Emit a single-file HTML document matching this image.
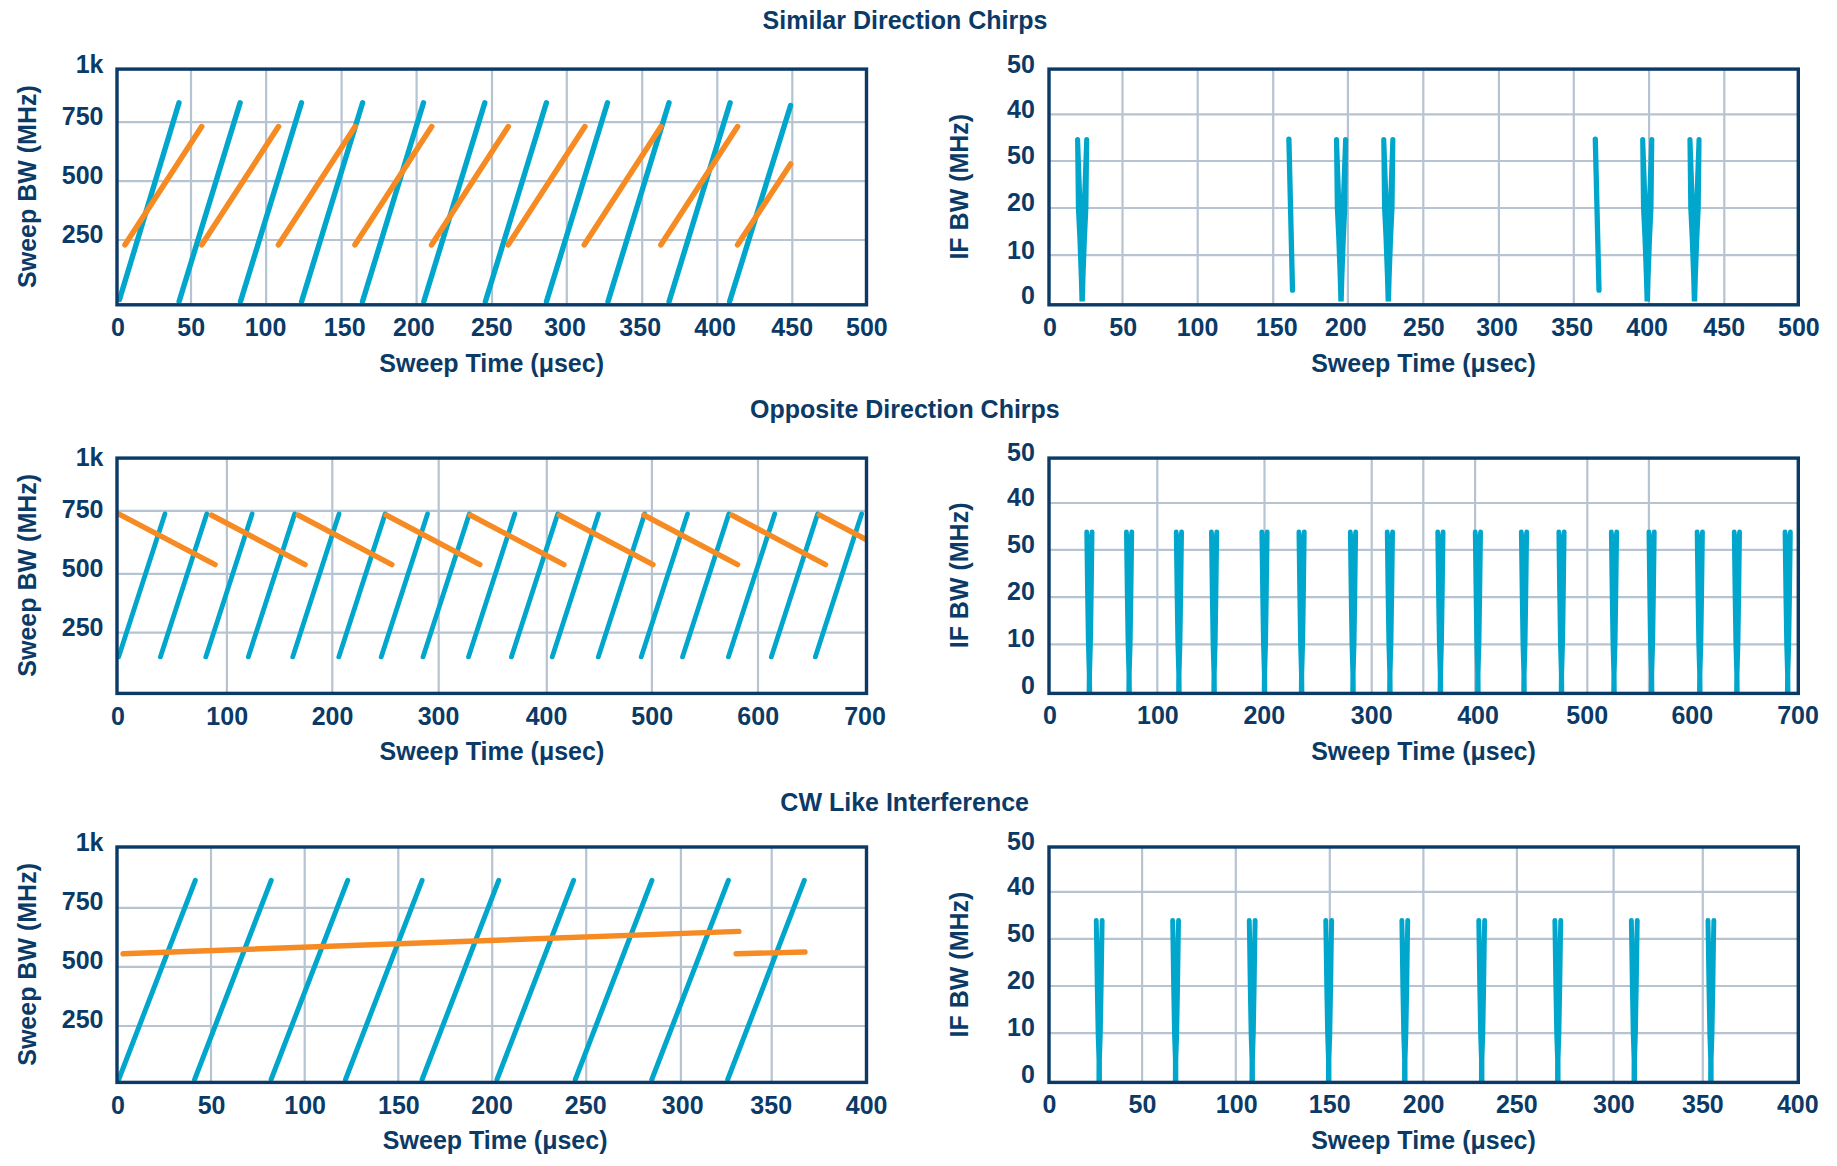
<!DOCTYPE html>
<html><head><meta charset="utf-8"><title>Chirp interference</title>
<style>html,body{margin:0;padding:0;background:#fff;}body{width:1837px;height:1166px;overflow:hidden;}svg{display:block;}</style>
</head><body>
<svg width="1837" height="1166" viewBox="0 0 1837 1166">
<rect x="0" y="0" width="1837" height="1166" fill="#fff"/>
<g>
<line x1="191.00" y1="69.10" x2="191.00" y2="304.80" stroke="#b6c3d1" stroke-width="2.2" stroke-linecap="butt"/>
<line x1="266.10" y1="69.10" x2="266.10" y2="304.80" stroke="#b6c3d1" stroke-width="2.2" stroke-linecap="butt"/>
<line x1="341.60" y1="69.10" x2="341.60" y2="304.80" stroke="#b6c3d1" stroke-width="2.2" stroke-linecap="butt"/>
<line x1="416.60" y1="69.10" x2="416.60" y2="304.80" stroke="#b6c3d1" stroke-width="2.2" stroke-linecap="butt"/>
<line x1="492.00" y1="69.10" x2="492.00" y2="304.80" stroke="#b6c3d1" stroke-width="2.2" stroke-linecap="butt"/>
<line x1="566.80" y1="69.10" x2="566.80" y2="304.80" stroke="#b6c3d1" stroke-width="2.2" stroke-linecap="butt"/>
<line x1="642.20" y1="69.10" x2="642.20" y2="304.80" stroke="#b6c3d1" stroke-width="2.2" stroke-linecap="butt"/>
<line x1="717.30" y1="69.10" x2="717.30" y2="304.80" stroke="#b6c3d1" stroke-width="2.2" stroke-linecap="butt"/>
<line x1="792.30" y1="69.10" x2="792.30" y2="304.80" stroke="#b6c3d1" stroke-width="2.2" stroke-linecap="butt"/>
<line x1="117.00" y1="122.10" x2="866.50" y2="122.10" stroke="#b6c3d1" stroke-width="2.2" stroke-linecap="butt"/>
<line x1="117.00" y1="181.10" x2="866.50" y2="181.10" stroke="#b6c3d1" stroke-width="2.2" stroke-linecap="butt"/>
<line x1="117.00" y1="240.00" x2="866.50" y2="240.00" stroke="#b6c3d1" stroke-width="2.2" stroke-linecap="butt"/>
<line x1="1122.50" y1="69.10" x2="1122.50" y2="304.80" stroke="#b6c3d1" stroke-width="2.2" stroke-linecap="butt"/>
<line x1="1197.70" y1="69.10" x2="1197.70" y2="304.80" stroke="#b6c3d1" stroke-width="2.2" stroke-linecap="butt"/>
<line x1="1273.20" y1="69.10" x2="1273.20" y2="304.80" stroke="#b6c3d1" stroke-width="2.2" stroke-linecap="butt"/>
<line x1="1347.90" y1="69.10" x2="1347.90" y2="304.80" stroke="#b6c3d1" stroke-width="2.2" stroke-linecap="butt"/>
<line x1="1423.30" y1="69.10" x2="1423.30" y2="304.80" stroke="#b6c3d1" stroke-width="2.2" stroke-linecap="butt"/>
<line x1="1498.90" y1="69.10" x2="1498.90" y2="304.80" stroke="#b6c3d1" stroke-width="2.2" stroke-linecap="butt"/>
<line x1="1573.80" y1="69.10" x2="1573.80" y2="304.80" stroke="#b6c3d1" stroke-width="2.2" stroke-linecap="butt"/>
<line x1="1649.10" y1="69.10" x2="1649.10" y2="304.80" stroke="#b6c3d1" stroke-width="2.2" stroke-linecap="butt"/>
<line x1="1724.30" y1="69.10" x2="1724.30" y2="304.80" stroke="#b6c3d1" stroke-width="2.2" stroke-linecap="butt"/>
<line x1="1049.00" y1="114.40" x2="1798.30" y2="114.40" stroke="#b6c3d1" stroke-width="2.2" stroke-linecap="butt"/>
<line x1="1049.00" y1="161.00" x2="1798.30" y2="161.00" stroke="#b6c3d1" stroke-width="2.2" stroke-linecap="butt"/>
<line x1="1049.00" y1="208.00" x2="1798.30" y2="208.00" stroke="#b6c3d1" stroke-width="2.2" stroke-linecap="butt"/>
<line x1="1049.00" y1="255.10" x2="1798.30" y2="255.10" stroke="#b6c3d1" stroke-width="2.2" stroke-linecap="butt"/>
<line x1="226.90" y1="458.10" x2="226.90" y2="693.40" stroke="#b6c3d1" stroke-width="2.2" stroke-linecap="butt"/>
<line x1="332.30" y1="458.10" x2="332.30" y2="693.40" stroke="#b6c3d1" stroke-width="2.2" stroke-linecap="butt"/>
<line x1="438.70" y1="458.10" x2="438.70" y2="693.40" stroke="#b6c3d1" stroke-width="2.2" stroke-linecap="butt"/>
<line x1="546.80" y1="458.10" x2="546.80" y2="693.40" stroke="#b6c3d1" stroke-width="2.2" stroke-linecap="butt"/>
<line x1="651.90" y1="458.10" x2="651.90" y2="693.40" stroke="#b6c3d1" stroke-width="2.2" stroke-linecap="butt"/>
<line x1="758.00" y1="458.10" x2="758.00" y2="693.40" stroke="#b6c3d1" stroke-width="2.2" stroke-linecap="butt"/>
<line x1="117.00" y1="510.90" x2="866.50" y2="510.90" stroke="#b6c3d1" stroke-width="2.2" stroke-linecap="butt"/>
<line x1="117.00" y1="573.80" x2="866.50" y2="573.80" stroke="#b6c3d1" stroke-width="2.2" stroke-linecap="butt"/>
<line x1="117.00" y1="632.70" x2="866.50" y2="632.70" stroke="#b6c3d1" stroke-width="2.2" stroke-linecap="butt"/>
<line x1="1157.30" y1="458.10" x2="1157.30" y2="693.40" stroke="#b6c3d1" stroke-width="2.2" stroke-linecap="butt"/>
<line x1="1264.50" y1="458.10" x2="1264.50" y2="693.40" stroke="#b6c3d1" stroke-width="2.2" stroke-linecap="butt"/>
<line x1="1371.70" y1="458.10" x2="1371.70" y2="693.40" stroke="#b6c3d1" stroke-width="2.2" stroke-linecap="butt"/>
<line x1="1423.30" y1="458.10" x2="1423.30" y2="693.40" stroke="#b6c3d1" stroke-width="2.2" stroke-linecap="butt"/>
<line x1="1475.10" y1="458.10" x2="1475.10" y2="693.40" stroke="#b6c3d1" stroke-width="2.2" stroke-linecap="butt"/>
<line x1="1587.30" y1="458.10" x2="1587.30" y2="693.40" stroke="#b6c3d1" stroke-width="2.2" stroke-linecap="butt"/>
<line x1="1648.90" y1="458.10" x2="1648.90" y2="693.40" stroke="#b6c3d1" stroke-width="2.2" stroke-linecap="butt"/>
<line x1="1049.00" y1="503.00" x2="1798.30" y2="503.00" stroke="#b6c3d1" stroke-width="2.2" stroke-linecap="butt"/>
<line x1="1049.00" y1="549.80" x2="1798.30" y2="549.80" stroke="#b6c3d1" stroke-width="2.2" stroke-linecap="butt"/>
<line x1="1049.00" y1="597.10" x2="1798.30" y2="597.10" stroke="#b6c3d1" stroke-width="2.2" stroke-linecap="butt"/>
<line x1="1049.00" y1="644.30" x2="1798.30" y2="644.30" stroke="#b6c3d1" stroke-width="2.2" stroke-linecap="butt"/>
<line x1="211.00" y1="847.00" x2="211.00" y2="1082.40" stroke="#b6c3d1" stroke-width="2.2" stroke-linecap="butt"/>
<line x1="304.70" y1="847.00" x2="304.70" y2="1082.40" stroke="#b6c3d1" stroke-width="2.2" stroke-linecap="butt"/>
<line x1="398.30" y1="847.00" x2="398.30" y2="1082.40" stroke="#b6c3d1" stroke-width="2.2" stroke-linecap="butt"/>
<line x1="492.20" y1="847.00" x2="492.20" y2="1082.40" stroke="#b6c3d1" stroke-width="2.2" stroke-linecap="butt"/>
<line x1="586.20" y1="847.00" x2="586.20" y2="1082.40" stroke="#b6c3d1" stroke-width="2.2" stroke-linecap="butt"/>
<line x1="680.90" y1="847.00" x2="680.90" y2="1082.40" stroke="#b6c3d1" stroke-width="2.2" stroke-linecap="butt"/>
<line x1="771.70" y1="847.00" x2="771.70" y2="1082.40" stroke="#b6c3d1" stroke-width="2.2" stroke-linecap="butt"/>
<line x1="117.00" y1="907.90" x2="866.50" y2="907.90" stroke="#b6c3d1" stroke-width="2.2" stroke-linecap="butt"/>
<line x1="117.00" y1="966.80" x2="866.50" y2="966.80" stroke="#b6c3d1" stroke-width="2.2" stroke-linecap="butt"/>
<line x1="117.00" y1="1026.00" x2="866.50" y2="1026.00" stroke="#b6c3d1" stroke-width="2.2" stroke-linecap="butt"/>
<line x1="1142.10" y1="847.00" x2="1142.10" y2="1082.40" stroke="#b6c3d1" stroke-width="2.2" stroke-linecap="butt"/>
<line x1="1235.80" y1="847.00" x2="1235.80" y2="1082.40" stroke="#b6c3d1" stroke-width="2.2" stroke-linecap="butt"/>
<line x1="1329.80" y1="847.00" x2="1329.80" y2="1082.40" stroke="#b6c3d1" stroke-width="2.2" stroke-linecap="butt"/>
<line x1="1423.40" y1="847.00" x2="1423.40" y2="1082.40" stroke="#b6c3d1" stroke-width="2.2" stroke-linecap="butt"/>
<line x1="1516.90" y1="847.00" x2="1516.90" y2="1082.40" stroke="#b6c3d1" stroke-width="2.2" stroke-linecap="butt"/>
<line x1="1613.60" y1="847.00" x2="1613.60" y2="1082.40" stroke="#b6c3d1" stroke-width="2.2" stroke-linecap="butt"/>
<line x1="1702.80" y1="847.00" x2="1702.80" y2="1082.40" stroke="#b6c3d1" stroke-width="2.2" stroke-linecap="butt"/>
<line x1="1049.00" y1="891.90" x2="1798.30" y2="891.90" stroke="#b6c3d1" stroke-width="2.2" stroke-linecap="butt"/>
<line x1="1049.00" y1="938.90" x2="1798.30" y2="938.90" stroke="#b6c3d1" stroke-width="2.2" stroke-linecap="butt"/>
<line x1="1049.00" y1="986.00" x2="1798.30" y2="986.00" stroke="#b6c3d1" stroke-width="2.2" stroke-linecap="butt"/>
<line x1="1049.00" y1="1033.10" x2="1798.30" y2="1033.10" stroke="#b6c3d1" stroke-width="2.2" stroke-linecap="butt"/>
</g>
<g stroke="#00a6cb" stroke-width="5.4" stroke-linecap="round" fill="none">
<line x1="119.50" y1="299.50" x2="179.00" y2="102.80"/>
<line x1="179.10" y1="301.50" x2="240.10" y2="102.80"/>
<line x1="240.50" y1="301.50" x2="301.50" y2="102.80"/>
<line x1="301.60" y1="301.50" x2="362.60" y2="102.80"/>
<line x1="362.50" y1="301.50" x2="423.50" y2="102.80"/>
<line x1="423.80" y1="301.50" x2="484.80" y2="102.80"/>
<line x1="485.40" y1="301.50" x2="546.40" y2="102.80"/>
<line x1="546.50" y1="301.50" x2="607.50" y2="102.80"/>
<line x1="608.00" y1="301.50" x2="669.00" y2="102.80"/>
<line x1="669.10" y1="301.50" x2="730.10" y2="102.80"/>
<line x1="729.60" y1="301.50" x2="790.60" y2="105.50"/>
</g>
<g stroke="#f68b24" stroke-width="5.6" stroke-linecap="round" fill="none">
<line x1="125.00" y1="244.8" x2="201.70" y2="126.60"/>
<line x1="201.80" y1="244.8" x2="278.50" y2="126.60"/>
<line x1="278.50" y1="244.8" x2="355.20" y2="126.60"/>
<line x1="355.00" y1="244.8" x2="431.70" y2="126.60"/>
<line x1="431.60" y1="244.8" x2="508.30" y2="126.60"/>
<line x1="508.20" y1="244.8" x2="584.90" y2="126.60"/>
<line x1="584.30" y1="244.8" x2="661.00" y2="126.60"/>
<line x1="660.90" y1="244.8" x2="737.60" y2="126.60"/>
<line x1="737.60" y1="244.8" x2="790.60" y2="164.00"/>
</g>
<g stroke="#00a6cb" stroke-width="4.8" stroke-linecap="round" fill="none">
<line x1="118.60" y1="656.9" x2="164.90" y2="513.9"/>
<line x1="160.40" y1="656.9" x2="206.70" y2="513.9"/>
<line x1="205.80" y1="656.9" x2="252.10" y2="513.9"/>
<line x1="248.30" y1="656.9" x2="294.60" y2="513.9"/>
<line x1="292.70" y1="656.9" x2="339.00" y2="513.9"/>
<line x1="338.80" y1="656.9" x2="385.10" y2="513.9"/>
<line x1="381.20" y1="656.9" x2="427.50" y2="513.9"/>
<line x1="423.00" y1="656.9" x2="469.30" y2="513.9"/>
<line x1="468.50" y1="656.9" x2="514.80" y2="513.9"/>
<line x1="511.40" y1="656.9" x2="557.70" y2="513.9"/>
<line x1="552.20" y1="656.9" x2="598.50" y2="513.9"/>
<line x1="598.30" y1="656.9" x2="644.60" y2="513.9"/>
<line x1="641.20" y1="656.9" x2="687.50" y2="513.9"/>
<line x1="682.50" y1="656.9" x2="728.80" y2="513.9"/>
<line x1="728.40" y1="656.9" x2="774.70" y2="513.9"/>
<line x1="771.30" y1="656.9" x2="817.60" y2="513.9"/>
<line x1="815.30" y1="656.9" x2="861.60" y2="513.9"/>
</g>
<g stroke="#f68b24" stroke-width="5.4" stroke-linecap="round" fill="none">
<line x1="118.6" y1="513.8" x2="215.10" y2="564.6"/>
<line x1="211.30" y1="515.0" x2="305.10" y2="564.6"/>
<line x1="298.10" y1="515.0" x2="391.90" y2="564.6"/>
<line x1="386.10" y1="515.0" x2="479.90" y2="564.6"/>
<line x1="470.20" y1="515.0" x2="564.00" y2="564.6"/>
<line x1="559.20" y1="515.0" x2="653.00" y2="564.6"/>
<line x1="643.80" y1="515.0" x2="737.60" y2="564.6"/>
<line x1="731.70" y1="515.0" x2="825.50" y2="564.6"/>
<line x1="819.3" y1="514.8" x2="865.2" y2="539.0"/>
</g>
<g stroke="#00a6cb" stroke-width="5.0" stroke-linecap="round" fill="none">
<line x1="118.70" y1="1079.5" x2="195.30" y2="880.3"/>
<line x1="194.60" y1="1079.5" x2="271.20" y2="880.3"/>
<line x1="271.10" y1="1079.5" x2="347.70" y2="880.3"/>
<line x1="345.50" y1="1079.5" x2="422.10" y2="880.3"/>
<line x1="422.10" y1="1079.5" x2="498.70" y2="880.3"/>
<line x1="497.00" y1="1079.5" x2="573.60" y2="880.3"/>
<line x1="575.30" y1="1079.5" x2="651.90" y2="880.3"/>
<line x1="651.80" y1="1079.5" x2="728.40" y2="880.3"/>
<line x1="727.70" y1="1079.5" x2="804.30" y2="880.3"/>
</g>
<g stroke="#f68b24" stroke-width="5.4" stroke-linecap="round" fill="none">
<line x1="123.1" y1="953.8" x2="738.9" y2="931.4"/>
<line x1="736.1" y1="953.8" x2="805.0" y2="952.0"/>
</g>
<path d="M1075.05,139.55 A2.55,2.55 0 0 1 1080.15,139.55 L1082.15,195.00 L1084.15,139.55 A2.55,2.55 0 0 1 1089.25,139.55 L1088.45,207.74 L1086.95,238.99 L1085.50,278.47 L1084.85,301.50 L1079.45,301.50 L1078.80,278.47 L1077.35,238.99 L1075.85,207.74 Z" fill="#00a6cb"/>
<path d="M1333.95,139.55 A2.55,2.55 0 0 1 1339.05,139.55 L1341.05,195.00 L1343.05,139.55 A2.55,2.55 0 0 1 1348.15,139.55 L1347.35,207.74 L1345.85,238.99 L1344.40,278.47 L1343.75,301.50 L1338.35,301.50 L1337.70,278.47 L1336.25,238.99 L1334.75,207.74 Z" fill="#00a6cb"/>
<path d="M1381.20,139.55 A2.55,2.55 0 0 1 1386.30,139.55 L1388.30,195.00 L1390.30,139.55 A2.55,2.55 0 0 1 1395.40,139.55 L1394.60,207.74 L1393.10,238.99 L1391.65,278.47 L1391.00,301.50 L1385.60,301.50 L1384.95,278.47 L1383.50,238.99 L1382.00,207.74 Z" fill="#00a6cb"/>
<path d="M1640.15,139.55 A2.55,2.55 0 0 1 1645.25,139.55 L1647.25,195.00 L1649.25,139.55 A2.55,2.55 0 0 1 1654.35,139.55 L1653.55,207.74 L1652.05,238.99 L1650.60,278.47 L1649.95,301.50 L1644.55,301.50 L1643.90,278.47 L1642.45,238.99 L1640.95,207.74 Z" fill="#00a6cb"/>
<path d="M1687.40,139.55 A2.55,2.55 0 0 1 1692.50,139.55 L1694.50,195.00 L1696.50,139.55 A2.55,2.55 0 0 1 1701.60,139.55 L1700.80,207.74 L1699.30,238.99 L1697.85,278.47 L1697.20,301.50 L1691.80,301.50 L1691.15,278.47 L1689.70,238.99 L1688.20,207.74 Z" fill="#00a6cb"/>
<line x1="1288.9" y1="139.2" x2="1292.5" y2="290.2" stroke="#00a6cb" stroke-width="5.3" stroke-linecap="round"/>
<line x1="1595.3" y1="139.2" x2="1599.0" y2="290.2" stroke="#00a6cb" stroke-width="5.3" stroke-linecap="round"/>
<path d="M1084.30,532.00 A2.4,2.4 0 0 1 1089.10,532.00 L1089.40,535.00 L1089.70,532.00 A2.4,2.4 0 0 1 1094.50,532.00 L1093.65,596.18 L1092.90,643.28 L1092.00,674.14 L1092.15,692.00 L1086.65,692.00 L1086.80,674.14 L1085.90,643.28 L1085.15,596.18 Z" fill="#00a6cb"/>
<path d="M1124.00,532.00 A2.4,2.4 0 0 1 1128.80,532.00 L1129.10,535.00 L1129.40,532.00 A2.4,2.4 0 0 1 1134.20,532.00 L1133.35,596.18 L1132.60,643.28 L1131.70,674.14 L1131.85,692.00 L1126.35,692.00 L1126.50,674.14 L1125.60,643.28 L1124.85,596.18 Z" fill="#00a6cb"/>
<path d="M1173.80,532.00 A2.4,2.4 0 0 1 1178.60,532.00 L1178.90,535.00 L1179.20,532.00 A2.4,2.4 0 0 1 1184.00,532.00 L1183.15,596.18 L1182.40,643.28 L1181.50,674.14 L1181.65,692.00 L1176.15,692.00 L1176.30,674.14 L1175.40,643.28 L1174.65,596.18 Z" fill="#00a6cb"/>
<path d="M1209.00,532.00 A2.4,2.4 0 0 1 1213.80,532.00 L1214.10,535.00 L1214.40,532.00 A2.4,2.4 0 0 1 1219.20,532.00 L1218.35,596.18 L1217.60,643.28 L1216.70,674.14 L1216.85,692.00 L1211.35,692.00 L1211.50,674.14 L1210.60,643.28 L1209.85,596.18 Z" fill="#00a6cb"/>
<path d="M1259.40,532.00 A2.4,2.4 0 0 1 1264.20,532.00 L1264.50,535.00 L1264.80,532.00 A2.4,2.4 0 0 1 1269.60,532.00 L1268.75,596.18 L1268.00,643.28 L1267.10,674.14 L1267.25,692.00 L1261.75,692.00 L1261.90,674.14 L1261.00,643.28 L1260.25,596.18 Z" fill="#00a6cb"/>
<path d="M1296.50,532.00 A2.4,2.4 0 0 1 1301.30,532.00 L1301.60,535.00 L1301.90,532.00 A2.4,2.4 0 0 1 1306.70,532.00 L1305.85,596.18 L1305.10,643.28 L1304.20,674.14 L1304.35,692.00 L1298.85,692.00 L1299.00,674.14 L1298.10,643.28 L1297.35,596.18 Z" fill="#00a6cb"/>
<path d="M1347.90,532.00 A2.4,2.4 0 0 1 1352.70,532.00 L1353.00,535.00 L1353.30,532.00 A2.4,2.4 0 0 1 1358.10,532.00 L1357.25,596.18 L1356.50,643.28 L1355.60,674.14 L1355.75,692.00 L1350.25,692.00 L1350.40,674.14 L1349.50,643.28 L1348.75,596.18 Z" fill="#00a6cb"/>
<path d="M1384.80,532.00 A2.4,2.4 0 0 1 1389.60,532.00 L1389.90,535.00 L1390.20,532.00 A2.4,2.4 0 0 1 1395.00,532.00 L1394.15,596.18 L1393.40,643.28 L1392.50,674.14 L1392.65,692.00 L1387.15,692.00 L1387.30,674.14 L1386.40,643.28 L1385.65,596.18 Z" fill="#00a6cb"/>
<path d="M1435.30,532.00 A2.4,2.4 0 0 1 1440.10,532.00 L1440.40,535.00 L1440.70,532.00 A2.4,2.4 0 0 1 1445.50,532.00 L1444.65,596.18 L1443.90,643.28 L1443.00,674.14 L1443.15,692.00 L1437.65,692.00 L1437.80,674.14 L1436.90,643.28 L1436.15,596.18 Z" fill="#00a6cb"/>
<path d="M1472.80,532.00 A2.4,2.4 0 0 1 1477.60,532.00 L1477.90,535.00 L1478.20,532.00 A2.4,2.4 0 0 1 1483.00,532.00 L1482.15,596.18 L1481.40,643.28 L1480.50,674.14 L1480.65,692.00 L1475.15,692.00 L1475.30,674.14 L1474.40,643.28 L1473.65,596.18 Z" fill="#00a6cb"/>
<path d="M1518.90,532.00 A2.4,2.4 0 0 1 1523.70,532.00 L1524.00,535.00 L1524.30,532.00 A2.4,2.4 0 0 1 1529.10,532.00 L1528.25,596.18 L1527.50,643.28 L1526.60,674.14 L1526.75,692.00 L1521.25,692.00 L1521.40,674.14 L1520.50,643.28 L1519.75,596.18 Z" fill="#00a6cb"/>
<path d="M1556.40,532.00 A2.4,2.4 0 0 1 1561.20,532.00 L1561.50,535.00 L1561.80,532.00 A2.4,2.4 0 0 1 1566.60,532.00 L1565.75,596.18 L1565.00,643.28 L1564.10,674.14 L1564.25,692.00 L1558.75,692.00 L1558.90,674.14 L1558.00,643.28 L1557.25,596.18 Z" fill="#00a6cb"/>
<path d="M1608.90,532.00 A2.4,2.4 0 0 1 1613.70,532.00 L1614.00,535.00 L1614.30,532.00 A2.4,2.4 0 0 1 1619.10,532.00 L1618.25,596.18 L1617.50,643.28 L1616.60,674.14 L1616.75,692.00 L1611.25,692.00 L1611.40,674.14 L1610.50,643.28 L1609.75,596.18 Z" fill="#00a6cb"/>
<path d="M1646.50,532.00 A2.4,2.4 0 0 1 1651.30,532.00 L1651.60,535.00 L1651.90,532.00 A2.4,2.4 0 0 1 1656.70,532.00 L1655.85,596.18 L1655.10,643.28 L1654.20,674.14 L1654.35,692.00 L1648.85,692.00 L1649.00,674.14 L1648.10,643.28 L1647.35,596.18 Z" fill="#00a6cb"/>
<path d="M1694.70,532.00 A2.4,2.4 0 0 1 1699.50,532.00 L1699.80,535.00 L1700.10,532.00 A2.4,2.4 0 0 1 1704.90,532.00 L1704.05,596.18 L1703.30,643.28 L1702.40,674.14 L1702.55,692.00 L1697.05,692.00 L1697.20,674.14 L1696.30,643.28 L1695.55,596.18 Z" fill="#00a6cb"/>
<path d="M1731.80,532.00 A2.4,2.4 0 0 1 1736.60,532.00 L1736.90,535.00 L1737.20,532.00 A2.4,2.4 0 0 1 1742.00,532.00 L1741.15,596.18 L1740.40,643.28 L1739.50,674.14 L1739.65,692.00 L1734.15,692.00 L1734.30,674.14 L1733.40,643.28 L1732.65,596.18 Z" fill="#00a6cb"/>
<path d="M1782.60,532.00 A2.4,2.4 0 0 1 1787.40,532.00 L1787.70,535.00 L1788.00,532.00 A2.4,2.4 0 0 1 1792.80,532.00 L1791.95,596.18 L1791.20,643.28 L1790.30,674.14 L1790.45,692.00 L1784.95,692.00 L1785.10,674.14 L1784.20,643.28 L1783.45,596.18 Z" fill="#00a6cb"/>
<path d="M1093.80,920.55 A2.45,2.45 0 0 1 1098.70,920.55 L1099.20,943.00 L1099.70,920.55 A2.45,2.45 0 0 1 1104.60,920.55 L1103.65,984.89 L1102.75,1033.76 L1101.90,1059.82 L1101.95,1081.00 L1096.45,1081.00 L1096.50,1059.82 L1095.65,1033.76 L1094.75,984.89 Z" fill="#00a6cb"/>
<path d="M1170.20,920.55 A2.45,2.45 0 0 1 1175.10,920.55 L1175.60,943.00 L1176.10,920.55 A2.45,2.45 0 0 1 1181.00,920.55 L1180.05,984.89 L1179.15,1033.76 L1178.30,1059.82 L1178.35,1081.00 L1172.85,1081.00 L1172.90,1059.82 L1172.05,1033.76 L1171.15,984.89 Z" fill="#00a6cb"/>
<path d="M1246.80,920.55 A2.45,2.45 0 0 1 1251.70,920.55 L1252.20,943.00 L1252.70,920.55 A2.45,2.45 0 0 1 1257.60,920.55 L1256.65,984.89 L1255.75,1033.76 L1254.90,1059.82 L1254.95,1081.00 L1249.45,1081.00 L1249.50,1059.82 L1248.65,1033.76 L1247.75,984.89 Z" fill="#00a6cb"/>
<path d="M1323.30,920.55 A2.45,2.45 0 0 1 1328.20,920.55 L1328.70,943.00 L1329.20,920.55 A2.45,2.45 0 0 1 1334.10,920.55 L1333.15,984.89 L1332.25,1033.76 L1331.40,1059.82 L1331.45,1081.00 L1325.95,1081.00 L1326.00,1059.82 L1325.15,1033.76 L1324.25,984.89 Z" fill="#00a6cb"/>
<path d="M1399.40,920.55 A2.45,2.45 0 0 1 1404.30,920.55 L1404.80,943.00 L1405.30,920.55 A2.45,2.45 0 0 1 1410.20,920.55 L1409.25,984.89 L1408.35,1033.76 L1407.50,1059.82 L1407.55,1081.00 L1402.05,1081.00 L1402.10,1059.82 L1401.25,1033.76 L1400.35,984.89 Z" fill="#00a6cb"/>
<path d="M1476.30,920.55 A2.45,2.45 0 0 1 1481.20,920.55 L1481.70,943.00 L1482.20,920.55 A2.45,2.45 0 0 1 1487.10,920.55 L1486.15,984.89 L1485.25,1033.76 L1484.40,1059.82 L1484.45,1081.00 L1478.95,1081.00 L1479.00,1059.82 L1478.15,1033.76 L1477.25,984.89 Z" fill="#00a6cb"/>
<path d="M1552.40,920.55 A2.45,2.45 0 0 1 1557.30,920.55 L1557.80,943.00 L1558.30,920.55 A2.45,2.45 0 0 1 1563.20,920.55 L1562.25,984.89 L1561.35,1033.76 L1560.50,1059.82 L1560.55,1081.00 L1555.05,1081.00 L1555.10,1059.82 L1554.25,1033.76 L1553.35,984.89 Z" fill="#00a6cb"/>
<path d="M1628.90,920.55 A2.45,2.45 0 0 1 1633.80,920.55 L1634.30,943.00 L1634.80,920.55 A2.45,2.45 0 0 1 1639.70,920.55 L1638.75,984.89 L1637.85,1033.76 L1637.00,1059.82 L1637.05,1081.00 L1631.55,1081.00 L1631.60,1059.82 L1630.75,1033.76 L1629.85,984.89 Z" fill="#00a6cb"/>
<path d="M1705.50,920.55 A2.45,2.45 0 0 1 1710.40,920.55 L1710.90,943.00 L1711.40,920.55 A2.45,2.45 0 0 1 1716.30,920.55 L1715.35,984.89 L1714.45,1033.76 L1713.60,1059.82 L1713.65,1081.00 L1708.15,1081.00 L1708.20,1059.82 L1707.35,1033.76 L1706.45,984.89 Z" fill="#00a6cb"/>
<rect x="117.00" y="69.10" width="749.50" height="235.70" fill="none" stroke="#0b3a67" stroke-width="3.4"/>
<rect x="1049.00" y="69.10" width="749.30" height="235.70" fill="none" stroke="#0b3a67" stroke-width="3.4"/>
<rect x="117.00" y="458.10" width="749.50" height="235.30" fill="none" stroke="#0b3a67" stroke-width="3.4"/>
<rect x="1049.00" y="458.10" width="749.30" height="235.30" fill="none" stroke="#0b3a67" stroke-width="3.4"/>
<rect x="117.00" y="847.00" width="749.50" height="235.40" fill="none" stroke="#0b3a67" stroke-width="3.4"/>
<rect x="1049.00" y="847.00" width="749.30" height="235.40" fill="none" stroke="#0b3a67" stroke-width="3.4"/>
<g font-family="Liberation Sans" font-weight="bold" fill="#0b3a67">
<text x="905.0" y="29.4" text-anchor="middle" font-size="25">Similar Direction Chirps</text>
<text x="904.9" y="418.2" text-anchor="middle" font-size="25">Opposite Direction Chirps</text>
<text x="904.7" y="811.1" text-anchor="middle" font-size="25">CW Like Interference</text>
<text x="103.5" y="73.4" text-anchor="end" font-size="25">1k</text>
<text x="103.5" y="125.1" text-anchor="end" font-size="25">750</text>
<text x="103.5" y="183.8" text-anchor="end" font-size="25">500</text>
<text x="103.5" y="242.9" text-anchor="end" font-size="25">250</text>
<text x="103.5" y="466.0" text-anchor="end" font-size="25">1k</text>
<text x="103.5" y="517.6" text-anchor="end" font-size="25">750</text>
<text x="103.5" y="576.7" text-anchor="end" font-size="25">500</text>
<text x="103.5" y="635.7" text-anchor="end" font-size="25">250</text>
<text x="103.5" y="850.7" text-anchor="end" font-size="25">1k</text>
<text x="103.5" y="910.3" text-anchor="end" font-size="25">750</text>
<text x="103.5" y="968.7" text-anchor="end" font-size="25">500</text>
<text x="103.5" y="1027.8" text-anchor="end" font-size="25">250</text>
<text x="1034.8" y="72.5" text-anchor="end" font-size="25">50</text>
<text x="1034.8" y="117.7" text-anchor="end" font-size="25">40</text>
<text x="1034.8" y="164.0" text-anchor="end" font-size="25">50</text>
<text x="1034.8" y="211.0" text-anchor="end" font-size="25">20</text>
<text x="1034.8" y="258.6" text-anchor="end" font-size="25">10</text>
<text x="1034.8" y="304.2" text-anchor="end" font-size="25">0</text>
<text x="1034.8" y="460.5" text-anchor="end" font-size="25">50</text>
<text x="1034.8" y="505.7" text-anchor="end" font-size="25">40</text>
<text x="1034.8" y="552.7" text-anchor="end" font-size="25">50</text>
<text x="1034.8" y="600.0" text-anchor="end" font-size="25">20</text>
<text x="1034.8" y="647.0" text-anchor="end" font-size="25">10</text>
<text x="1034.8" y="693.9" text-anchor="end" font-size="25">0</text>
<text x="1034.8" y="849.8" text-anchor="end" font-size="25">50</text>
<text x="1034.8" y="895.0" text-anchor="end" font-size="25">40</text>
<text x="1034.8" y="941.8" text-anchor="end" font-size="25">50</text>
<text x="1034.8" y="988.9" text-anchor="end" font-size="25">20</text>
<text x="1034.8" y="1035.7" text-anchor="end" font-size="25">10</text>
<text x="1034.8" y="1082.7" text-anchor="end" font-size="25">0</text>
<text x="118.0" y="335.9" text-anchor="middle" font-size="25">0</text>
<text x="191.2" y="335.9" text-anchor="middle" font-size="25">50</text>
<text x="265.5" y="335.9" text-anchor="middle" font-size="25">100</text>
<text x="344.7" y="335.9" text-anchor="middle" font-size="25">150</text>
<text x="413.9" y="335.9" text-anchor="middle" font-size="25">200</text>
<text x="491.9" y="335.9" text-anchor="middle" font-size="25">250</text>
<text x="565.0" y="335.9" text-anchor="middle" font-size="25">300</text>
<text x="640.2" y="335.9" text-anchor="middle" font-size="25">350</text>
<text x="715.1" y="335.9" text-anchor="middle" font-size="25">400</text>
<text x="792.2" y="335.9" text-anchor="middle" font-size="25">450</text>
<text x="866.9" y="335.9" text-anchor="middle" font-size="25">500</text>
<text x="1050.0" y="335.9" text-anchor="middle" font-size="25">0</text>
<text x="1123.2" y="335.9" text-anchor="middle" font-size="25">50</text>
<text x="1197.5" y="335.9" text-anchor="middle" font-size="25">100</text>
<text x="1276.7" y="335.9" text-anchor="middle" font-size="25">150</text>
<text x="1345.9" y="335.9" text-anchor="middle" font-size="25">200</text>
<text x="1423.9" y="335.9" text-anchor="middle" font-size="25">250</text>
<text x="1497.0" y="335.9" text-anchor="middle" font-size="25">300</text>
<text x="1572.2" y="335.9" text-anchor="middle" font-size="25">350</text>
<text x="1647.1" y="335.9" text-anchor="middle" font-size="25">400</text>
<text x="1724.2" y="335.9" text-anchor="middle" font-size="25">450</text>
<text x="1798.9" y="335.9" text-anchor="middle" font-size="25">500</text>
<text x="118.0" y="725.1" text-anchor="middle" font-size="25">0</text>
<text x="227.2" y="725.1" text-anchor="middle" font-size="25">100</text>
<text x="332.5" y="725.1" text-anchor="middle" font-size="25">200</text>
<text x="438.5" y="725.1" text-anchor="middle" font-size="25">300</text>
<text x="546.5" y="725.1" text-anchor="middle" font-size="25">400</text>
<text x="652.2" y="725.1" text-anchor="middle" font-size="25">500</text>
<text x="758.2" y="725.1" text-anchor="middle" font-size="25">600</text>
<text x="865.0" y="725.1" text-anchor="middle" font-size="25">700</text>
<text x="1050.0" y="724.1" text-anchor="middle" font-size="25">0</text>
<text x="1157.9" y="724.1" text-anchor="middle" font-size="25">100</text>
<text x="1264.3" y="724.1" text-anchor="middle" font-size="25">200</text>
<text x="1371.7" y="724.1" text-anchor="middle" font-size="25">300</text>
<text x="1478.0" y="724.1" text-anchor="middle" font-size="25">400</text>
<text x="1587.2" y="724.1" text-anchor="middle" font-size="25">500</text>
<text x="1692.3" y="724.1" text-anchor="middle" font-size="25">600</text>
<text x="1798.0" y="724.1" text-anchor="middle" font-size="25">700</text>
<text x="118.0" y="1114.4" text-anchor="middle" font-size="25">0</text>
<text x="211.6" y="1114.4" text-anchor="middle" font-size="25">50</text>
<text x="305.1" y="1114.4" text-anchor="middle" font-size="25">100</text>
<text x="398.9" y="1114.4" text-anchor="middle" font-size="25">150</text>
<text x="492.0" y="1114.4" text-anchor="middle" font-size="25">200</text>
<text x="585.7" y="1114.4" text-anchor="middle" font-size="25">250</text>
<text x="682.7" y="1114.4" text-anchor="middle" font-size="25">300</text>
<text x="771.2" y="1114.4" text-anchor="middle" font-size="25">350</text>
<text x="866.6" y="1114.4" text-anchor="middle" font-size="25">400</text>
<text x="1049.4" y="1113.3" text-anchor="middle" font-size="25">0</text>
<text x="1142.5" y="1113.3" text-anchor="middle" font-size="25">50</text>
<text x="1236.7" y="1113.3" text-anchor="middle" font-size="25">100</text>
<text x="1329.7" y="1113.3" text-anchor="middle" font-size="25">150</text>
<text x="1423.6" y="1113.3" text-anchor="middle" font-size="25">200</text>
<text x="1516.8" y="1113.3" text-anchor="middle" font-size="25">250</text>
<text x="1613.9" y="1113.3" text-anchor="middle" font-size="25">300</text>
<text x="1702.9" y="1113.3" text-anchor="middle" font-size="25">350</text>
<text x="1797.8" y="1113.3" text-anchor="middle" font-size="25">400</text>
<text x="491.7" y="371.7" text-anchor="middle" font-size="25">Sweep Time (μsec)</text>
<text x="1423.5" y="371.7" text-anchor="middle" font-size="25">Sweep Time (μsec)</text>
<text x="491.9" y="760.1" text-anchor="middle" font-size="25">Sweep Time (μsec)</text>
<text x="1423.5" y="760.1" text-anchor="middle" font-size="25">Sweep Time (μsec)</text>
<text x="495.2" y="1149.1" text-anchor="middle" font-size="25">Sweep Time (μsec)</text>
<text x="1423.5" y="1148.5" text-anchor="middle" font-size="25">Sweep Time (μsec)</text>
<text transform="translate(35.8,186.6) rotate(-90)" text-anchor="middle" font-size="25">Sweep BW (MHz)</text>
<text transform="translate(968.2,186.7) rotate(-90)" text-anchor="middle" font-size="25">IF BW (MHz)</text>
<text transform="translate(35.8,575.3) rotate(-90)" text-anchor="middle" font-size="25">Sweep BW (MHz)</text>
<text transform="translate(968.2,575.4) rotate(-90)" text-anchor="middle" font-size="25">IF BW (MHz)</text>
<text transform="translate(35.8,964.4) rotate(-90)" text-anchor="middle" font-size="25">Sweep BW (MHz)</text>
<text transform="translate(968.2,964.5) rotate(-90)" text-anchor="middle" font-size="25">IF BW (MHz)</text>
</g>
</svg>
</body></html>
